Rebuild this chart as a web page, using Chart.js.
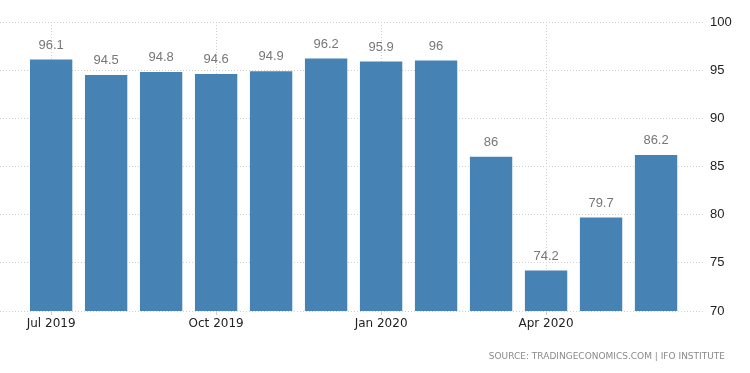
<!DOCTYPE html>
<html>
<head>
<meta charset="utf-8">
<script src="https://cdn.jsdelivr.net/npm/chart.js@4"></script>
<style>
  html, body { margin: 0; padding: 0; background: #fff; }
  #wrap { width: 750px; height: 373px; }
</style>
</head>
<body>
<div id="wrap"><canvas id="ifo-chart" width="750" height="373"></canvas></div>
<script>
// datos
const months = ['Jul 2019', 'Aug 2019', 'Sep 2019', 'Oct 2019', 'Nov 2019', 'Dec 2019',
                'Jan 2020', 'Feb 2020', 'Mar 2020', 'Apr 2020', 'May 2020', 'Jun 2020'];
const values = [96.1, 94.5, 94.8, 94.6, 94.9, 96.2, 95.9, 96, 86, 74.2, 79.7, 86.2];
const tickMonths = ['Jul 2019', 'Oct 2019', 'Jan 2020', 'Apr 2020'];
const yTicks = [70, 75, 80, 85, 90, 95, 100];
const sourceText = 'SOURCE: TRADINGECONOMICS.COM | IFO INSTITUTE';

// etiquetas encima de cada barra + texto de fuente
const labelsPlugin = {
    id: 'barLabels',
    afterDatasetsDraw(chart) {
        const ctx = chart.ctx;
        const meta = chart.getDatasetMeta(0);
        ctx.save();
        ctx.font = '13px "Liberation Sans", Arial, sans-serif';
        ctx.fillStyle = '#777';
        ctx.textAlign = 'center';
        ctx.textBaseline = 'bottom';
        meta.data.forEach(function(bar, i) {
            ctx.fillText(String(values[i]), bar.x, bar.y - 8);
        });
        ctx.font = '9px "DejaVu Sans", Verdana, sans-serif';
        ctx.fillStyle = '#8a8a8a';
        ctx.textAlign = 'right';
        ctx.textBaseline = 'middle';
        ctx.fillText(sourceText, 725, 357);
        ctx.restore();
    }
};

document.addEventListener('DOMContentLoaded', function() {
    const ctx = document.getElementById('ifo-chart').getContext('2d');
    new Chart(ctx, {
        type: 'bar',
        data: {
            datasets: [{
                data: values.map(function(v, i) { return { x: i, y: v }; }),
                backgroundColor: '#4682b4',
                barPercentage: 0.77,
                categoryPercentage: 1
            }]
        },
        options: {
            responsive: false,
            animation: false,
            layout: { padding: { top: 22, left: 0, right: 0, bottom: 0 } },
            plugins: { legend: { display: false }, tooltip: { enabled: false } },
            scales: {
                x: {
                    type: 'linear',
                    offset: false,
                    bounds: 'data',
                    min: -0.93,
                    max: 11.89,
                    afterBuildTicks: function(scale) {
                        scale.ticks = tickMonths.map(function(m) { return { value: months.indexOf(m) }; });
                    },
                    afterFit: function(scale) { scale.height = 62; },
                    ticks: {
                        callback: function(v) { return months[v]; },
                        font: { family: '"DejaVu Sans", Verdana, sans-serif', size: 12 },
                        color: '#222',
                        padding: 2,
                        maxRotation: 0
                    },
                    grid: { color: '#cfcfcf', tickLength: 4, offset: false },
                    border: { display: false, dash: [1, 2] }
                },
                y: {
                    position: 'right',
                    min: 70,
                    max: 100,
                    afterBuildTicks: function(scale) {
                        scale.ticks = yTicks.map(function(v) { return { value: v }; });
                    },
                    afterFit: function(scale) { scale.width = 45; },
                    ticks: {
                        font: { family: '"Liberation Sans", Arial, sans-serif', size: 13 },
                        color: '#222',
                        padding: 5
                    },
                    grid: { color: '#cfcfcf', drawTicks: false },
                    border: { display: false, dash: [1, 2] }
                }
            }
        },
        plugins: [labelsPlugin]
    });
});
</script>
</body>
</html>
